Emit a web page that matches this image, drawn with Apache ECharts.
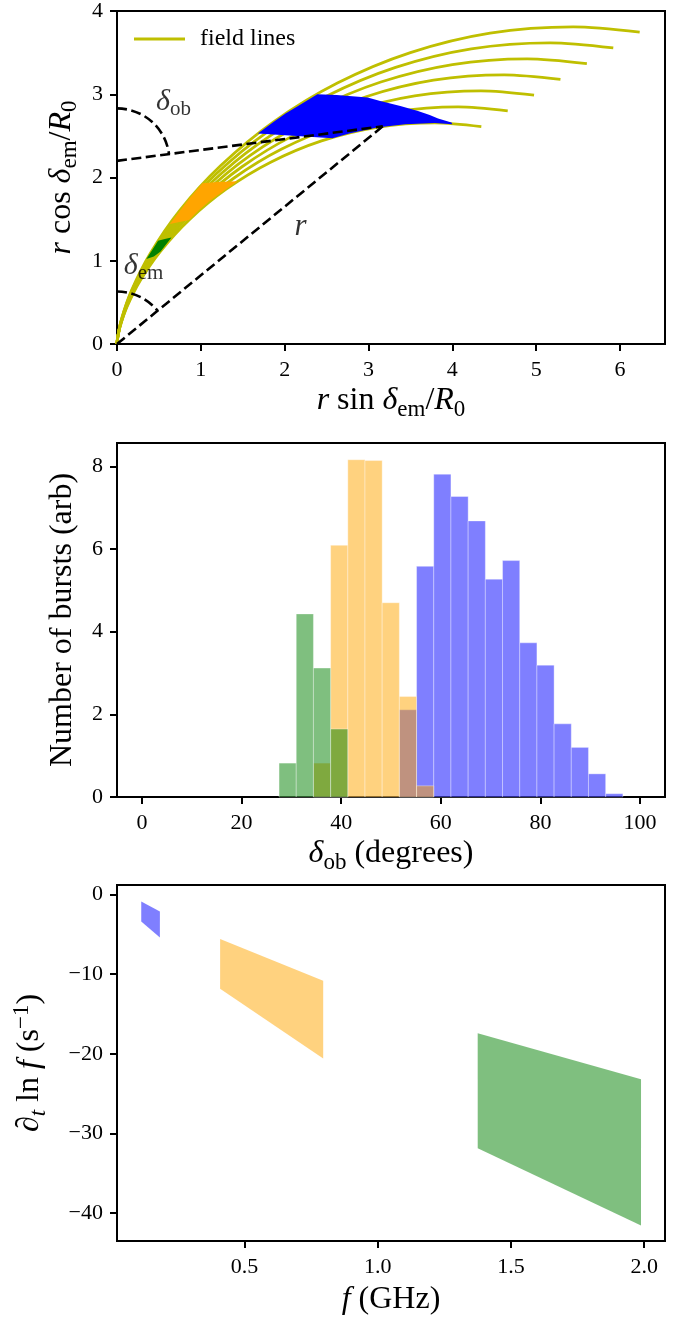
<!DOCTYPE html>
<html><head><meta charset="utf-8">
<script src="https://cdn.jsdelivr.net/npm/echarts@6/dist/echarts.min.js"></script>
<style>html,body{margin:0;padding:0;background:#fff}#c{width:694px;height:1320px}</style>
</head><body><div id="c"></div>
<script>
// ---------- Panel 1 data ----------
const xTicks1 = [0, 1, 2, 3, 4, 5, 6];
const yTicks1 = [0, 1, 2, 3, 4];
const fieldLine1 = [[0,0],[0.005,0.052],[0.036,0.205],[0.12,0.447],[0.276,0.759],[0.521,1.117],[0.863,1.494],[1.302,1.86],[1.833,2.184],[2.44,2.44],[3.102,2.603],[3.793,2.656],[4.346,2.611]];
const fieldLine2 = [[0,0],[0.005,0.056],[0.039,0.22],[0.128,0.479],[0.296,0.813],[0.559,1.198],[0.925,1.602],[1.396,1.994],[1.965,2.342],[2.616,2.616],[3.327,2.791],[4.068,2.848],[4.661,2.8]];
const fieldLine3 = [[0,0],[0.005,0.06],[0.041,0.235],[0.137,0.511],[0.316,0.868],[0.596,1.279],[0.988,1.71],[1.491,2.129],[2.098,2.5],[2.793,2.793],[3.551,2.98],[4.342,3.041],[4.975,2.99]];
const fieldLine4 = [[0,0],[0.006,0.064],[0.044,0.249],[0.146,0.544],[0.336,0.923],[0.634,1.36],[1.05,1.819],[1.585,2.264],[2.231,2.659],[2.97,2.97],[3.776,3.169],[4.617,3.233],[5.29,3.179]];
const fieldLine5 = [[0,0],[0.006,0.067],[0.047,0.264],[0.154,0.576],[0.356,0.978],[0.672,1.441],[1.113,1.927],[1.679,2.399],[2.364,2.817],[3.147,3.147],[4.001,3.357],[4.892,3.425],[5.605,3.368]];
const fieldLine6 = [[0,0],[0.006,0.071],[0.049,0.279],[0.163,0.608],[0.376,1.033],[0.71,1.522],[1.175,2.035],[1.774,2.533],[2.497,2.975],[3.323,3.323],[4.226,3.546],[5.167,3.618],[5.92,3.557]];
const fieldLine7 = [[0,0],[0.007,0.075],[0.052,0.294],[0.172,0.641],[0.396,1.088],[0.747,1.603],[1.238,2.143],[1.868,2.668],[2.629,3.134],[3.5,3.5],[4.45,3.734],[5.442,3.81],[6.235,3.746]];
const blueRegion = [[1.68,2.53],[1.87,2.67],[2.01,2.77],[2.16,2.86],[2.39,3.0],[2.62,2.99],[2.99,2.96],[3.14,2.92],[3.38,2.86],[3.59,2.8],[3.73,2.75],[3.83,2.71],[3.99,2.66],[4.0,2.64],[3.79,2.655],[3.44,2.64],[3.1,2.6],[2.77,2.53],[2.57,2.47]];
const orangeRegion = [[0.63,1.44],[0.75,1.6],[0.88,1.77],[1.02,1.93],[1.2,1.945],[1.44,1.955],[1.3,1.86],[1.11,1.72],[0.98,1.61],[0.86,1.49]];
const greenRegion = [[0.35,1.02],[0.42,1.13],[0.49,1.24],[0.57,1.26],[0.65,1.28],[0.58,1.19],[0.52,1.11],[0.44,1.05]];
const rLine = [[0,0],[3.17,2.615]];
const obLine = [[0,2.2],[3.17,2.615]];
const emArc = [0, 0, 0.63];      // centre x, centre y, radius
const obArc = [0, 2.2, 0.63];
const emissionPoint = [3.17, 2.615];

// ---------- Panel 2 data ----------
const xTicks2 = [0, 20, 40, 60, 80, 100];
const yTicks2 = [0, 2, 4, 6, 8];
const binEdges = [27.53,30.98,34.43,37.88,41.33,44.78,48.23,51.68,55.13,58.58,62.03,65.49,68.94,72.39,75.84,79.29,82.74,86.19,89.64,93.09,96.54];
const blueCounts   = [0,0,0,0,0,0,0,2.11,5.58,7.81,7.27,6.68,5.27,5.72,3.73,3.19,1.77,1.20,0.56,0.08];
const orangeCounts = [0,0,0.82,6.09,8.16,8.14,4.70,2.43,0.27,0,0,0,0,0,0,0,0,0,0,0];
const greenCounts  = [0.82,4.43,3.12,1.645,0,0,0,0,0,0,0,0,0,0,0,0,0,0,0,0];

// ---------- Panel 3 data ----------
const xTicks3 = [0.5, 1.0, 1.5, 2.0];
const yTicks3 = [0, -10, -20, -30, -40];
const blueFreq = [0.112, 0.182], blueRateTop = [-0.84, -2.10], blueRateBottom = [-3.36, -5.37];
const orangeFreq = [0.408, 0.795], orangeRateTop = [-5.58, -10.83], orangeRateBottom = [-11.83, -20.60];
const greenFreq = [1.375, 1.988], greenRateTop = [-17.42, -23.21], greenRateBottom = [-31.89, -41.59];

// ---------- styling ----------
const FONT = "'Liberation Serif', 'Times New Roman', serif";
const NS = 32, SS = 23;
const nameRich = {
  n: {fontFamily: FONT, fontSize: NS, lineHeight: 40, color: '#000'},
  i: {fontFamily: FONT, fontSize: NS, lineHeight: 40, fontStyle: 'italic', color: '#000'},
  s: {fontFamily: FONT, fontSize: SS, lineHeight: SS, verticalAlign: 'bottom', color: '#000'},
  si: {fontFamily: FONT, fontSize: SS, lineHeight: SS, verticalAlign: 'bottom', fontStyle: 'italic', color: '#000'},
  p: {fontFamily: FONT, fontSize: SS, lineHeight: SS, verticalAlign: 'top', color: '#000'}
};
const annoRich = {
  i: {fontFamily: FONT, fontSize: 30, lineHeight: 36, fontStyle: 'italic', color: '#000'},
  s: {fontFamily: FONT, fontSize: 21, lineHeight: 21, verticalAlign: 'bottom', color: '#000'},
  r: {fontFamily: FONT, fontSize: 31, lineHeight: 31, fontStyle: 'italic', color: '#000'}
};

function axis(gridIndex, min, max, ticks, fmt, name, nameGap, isY) {
  return {
    type: 'value', gridIndex, min, max,
    axisLine: {show: true, onZero: false, lineStyle: {color: '#000', width: 2}},
    axisTick: {show: true, length: 7, lineStyle: {color: '#000', width: 2}, customValues: ticks},
    axisLabel: {customValues: ticks, formatter: fmt, fontFamily: FONT, fontSize: 22, color: '#000', margin: isY ? 14 : 15},
    splitLine: {show: false},
    name, nameLocation: 'middle', nameGap, nameRotate: isY ? 90 : 0,
    nameTextStyle: {rich: nameRich, color: '#000', fontFamily: FONT, fontSize: NS}
  };
}
const plain = v => String(v);
const minusFmt = v => (v < 0 ? '\u2212' + Math.abs(v) : String(v));
const oneDec = v => v.toFixed(1);

function polygonSeries(points, color, gi, z) {
  return {
    type: 'custom', xAxisIndex: gi, yAxisIndex: gi, z, silent: true, clip: true,
    data: points,
    renderItem: (params, api) => params.dataIndex === 0 ? {
      type: 'polygon', shape: {points: points.map(p => api.coord(p))}, style: {fill: color}
    } : null
  };
}
function bandPoints(fr, top, bot) {
  return [[fr[0], top[0]], [fr[1], top[1]], [fr[1], bot[1]], [fr[0], bot[0]]];
}
function histSeries(counts, color, z) {
  return {
    type: 'custom', xAxisIndex: 1, yAxisIndex: 1, z, silent: true,
    data: counts.map((h, i) => [binEdges[i], binEdges[i + 1], h]).filter(d => d[2] > 0),
    encode: {x: [0, 1], y: 2},
    renderItem: (params, api) => {
      const p0 = api.coord([api.value(0), api.value(2)]);
      const p1 = api.coord([api.value(1), 0]);
      return {type: 'rect', shape: {x: p0[0], y: p0[1], width: p1[0] - p0[0], height: p1[1] - p0[1]},
              style: {fill: color, stroke: 'rgba(255,255,255,0.35)', lineWidth: 1}};
    }
  };
}
function arcSeries(arc) {
  return {
    type: 'custom', xAxisIndex: 0, yAxisIndex: 0, z: 5, silent: true,
    data: [arc],
    renderItem: (params, api) => {
      const c = api.coord([arc[0], arc[1]]);
      const t = api.coord([arc[0], arc[1] + arc[2]]);
      const e = api.coord(emissionPoint);
      return {type: 'arc', shape: {cx: c[0], cy: c[1], r: c[1] - t[1], startAngle: -Math.PI / 2,
              endAngle: Math.atan2(e[1] - c[1], e[0] - c[0]), clockwise: true},
              style: {fill: 'none', stroke: '#000', lineWidth: 2.6, lineDash: [10, 4.5]}};
    }
  };
}
function dashed(pts) {
  return {type: 'line', xAxisIndex: 0, yAxisIndex: 0, data: pts, z: 5, silent: true, symbol: 'none',
          lineStyle: {color: '#000', width: 2.6, type: [10, 4.5]}};
}
function anno(pt, text) {
  return {type: 'scatter', xAxisIndex: 0, yAxisIndex: 0, z: 6, silent: true, symbolSize: 1,
          itemStyle: {color: 'rgba(0,0,0,0)'}, data: [pt],
          label: {show: true, position: 'inside', formatter: text, rich: annoRich, color: '#000'}};
}

const series = [];
[fieldLine1, fieldLine2, fieldLine3, fieldLine4, fieldLine5, fieldLine6, fieldLine7].forEach(pts => {
  series.push({type: 'line', name: 'field lines', xAxisIndex: 0, yAxisIndex: 0, data: pts, smooth: 0.3,
               symbol: 'none', color: '#bfbf00', lineStyle: {color: '#bfbf00', width: 2.8}, z: 2, silent: true});
});
series.push(polygonSeries(blueRegion, '#0000ff', 0, 3));
series.push(polygonSeries(orangeRegion, '#ffa500', 0, 3));
series.push(polygonSeries(greenRegion, '#008000', 0, 3));
series.push(dashed(rLine), dashed(obLine), arcSeries(emArc), arcSeries(obArc));
series.push(anno([0.674, 2.91], '{i|δ}{s|ob}'));
series.push(anno([0.316, 0.934], '{i|δ}{s|em}'));
series.push(anno([2.19, 1.41], '{r|r}'));

series.push(histSeries(blueCounts, 'rgba(0,0,255,0.5)', 2));
series.push(histSeries(orangeCounts, 'rgba(255,165,0,0.5)', 3));
series.push(histSeries(greenCounts, 'rgba(0,128,0,0.5)', 4));

series.push(polygonSeries(bandPoints(blueFreq, blueRateTop, blueRateBottom), 'rgba(0,0,255,0.5)', 2, 2));
series.push(polygonSeries(bandPoints(orangeFreq, orangeRateTop, orangeRateBottom), 'rgba(255,165,0,0.5)', 2, 2));
series.push(polygonSeries(bandPoints(greenFreq, greenRateTop, greenRateBottom), 'rgba(0,128,0,0.5)', 2, 2));

const gridBase = {left: 117, width: 548, show: true, borderColor: '#000', borderWidth: 2, backgroundColor: 'transparent'};
const option = {
  animation: false,
  backgroundColor: '#fff',
  grid: [
    Object.assign({top: 10, height: 334}, gridBase),
    Object.assign({top: 443, height: 354}, gridBase),
    Object.assign({top: 885, height: 356}, gridBase)
  ],
  legend: {
    data: [{name: 'field lines', icon: 'rect'}], left: 134, top: 27, padding: 0,
    itemWidth: 51, itemHeight: 3, selectedMode: false,
    textStyle: {fontFamily: FONT, fontSize: 24, color: '#000', padding: [0, 0, 0, 10]}
  },
  xAxis: [
    axis(0, 0, 6.537, xTicks1, plain, '{i|r}{n| sin }{i|δ}{s|em}{n|/}{i|R}{s|0}', 37, false),
    axis(1, -5, 105, xTicks2, plain, '{i|δ}{s|ob}{n| (degrees)}', 37, false),
    axis(2, 0.021, 2.078, xTicks3, oneDec, '{i|f}{n| (GHz)}', 39, false)
  ],
  yAxis: [
    axis(0, 0, 4, yTicks1, plain, '{i|r}{n| cos }{i|δ}{s|em}{n|/}{i|R}{s|0}', 34, true),
    axis(1, 0, 8.565, yTicks2, plain, '{n|Number of bursts (arb)}', 34, true),
    axis(2, -43.54, 1.22, yTicks3, minusFmt, '{n|∂}{si|t}{n| ln }{i|f}{n| (s}{p|\u22121}{n|)}', 67, true)
  ],
  series
};
const chart = echarts.init(document.getElementById('c'), null, {renderer: 'canvas'});
chart.setOption(option);
</script></body></html>
